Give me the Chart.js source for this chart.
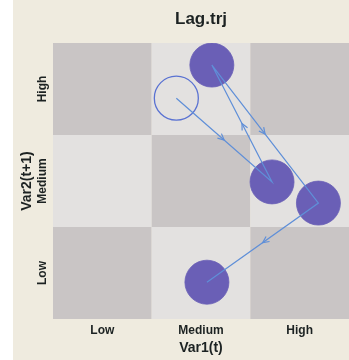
<!DOCTYPE html>
<html>
<head>
<meta charset="utf-8">
<script src="https://cdn.jsdelivr.net/npm/chart.js@4/dist/chart.umd.min.js"></script>
<style>
  html, body { margin: 0; padding: 0; background: #ffffff; }
  #wrap { position: absolute; left: 13px; top: 0; width: 336px; height: 360px; background: #efebdf; }
  canvas { display: block; }
</style>
</head>
<body>
<div id="wrap"><canvas id="c" width="336" height="360"></canvas></div>
<script>
// Category levels shared by both axes (value 1 = Low, 2 = Medium, 3 = High)
const categories = ['Low', 'Medium', 'High'];

// Lagged trajectory: Var1 at time t against Var2 at time t+1, in visiting order
const var1T   = [1.75, 2.72, 2.11, 3.19, 2.06];
const var2T1  = [2.90, 1.99, 3.26, 1.76, 0.90];

const FONT = "'Liberation Sans', Arial, sans-serif";
const TEXT = '#1c2222';
const CELL_DARK = '#c9c5c5';
const CELL_LIGHT = '#e3e1e0';
const DOT = '#6a5fb6';
const PATH = '#5f8fd8';
const OPEN = '#5a72d2';

const points = var1T.map((x, i) => ({ x, y: var2T1[i] }));
const categoryTicks = (scale) => { scale.ticks = categories.map((c, i) => ({ value: i + 1 })); };

// Checkerboard of category cells behind the marks
const checkerboard = {
  id: 'checkerboard',
  beforeDatasetsDraw(chart) {
    const { ctx, scales: { x, y } } = chart;
    ctx.save();
    categories.forEach((_, i) => {
      categories.forEach((_, j) => {
        const x0 = x.getPixelForValue(i + 0.5), x1 = x.getPixelForValue(i + 1.5);
        const y0 = y.getPixelForValue(j + 1.5), y1 = y.getPixelForValue(j + 0.5);
        ctx.fillStyle = (i + j) % 2 === 0 ? CELL_DARK : CELL_LIGHT;
        ctx.fillRect(x0, y0, x1 - x0, y1 - y0);
      });
    });
    ctx.restore();
  }
};

// Open arrowheads at the middle of each step of the path, plus rotated y labels
const arrowsAndLabels = {
  id: 'arrowsAndLabels',
  afterDatasetsDraw(chart) {
    const { ctx, scales: { x, y } } = chart;
    ctx.save();
    ctx.strokeStyle = PATH;
    ctx.lineWidth = 1.2;
    for (let k = 0; k < points.length - 1; k++) {
      const ax = x.getPixelForValue(points[k].x), ay = y.getPixelForValue(points[k].y);
      const bx = x.getPixelForValue(points[k + 1].x), by = y.getPixelForValue(points[k + 1].y);
      const mx = (ax + bx) / 2, my = (ay + by) / 2;
      const ang = Math.atan2(by - ay, bx - ax);
      const len = 7, spread = Math.PI / 7;
      ctx.beginPath();
      ctx.moveTo(mx - len * Math.cos(ang - spread), my - len * Math.sin(ang - spread));
      ctx.lineTo(mx, my);
      ctx.lineTo(mx - len * Math.cos(ang + spread), my - len * Math.sin(ang + spread));
      ctx.stroke();
    }
    ctx.restore();
  },
  afterDraw(chart) {
    const { ctx, scales: { y } } = chart;
    ctx.save();
    ctx.fillStyle = TEXT;
    ctx.font = 'bold 12px ' + FONT;
    ctx.textAlign = 'center';
    ctx.textBaseline = 'middle';
    categories.forEach((label, i) => {
      ctx.save();
      ctx.translate(30, y.getPixelForValue(i + 1));
      ctx.rotate(-Math.PI / 2);
      ctx.fillText(label, 0, 0);
      ctx.restore();
    });
    ctx.restore();
  }
};

new Chart(document.getElementById('c'), {
  type: 'scatter',
  data: {
    datasets: [
      {
        data: points,
        showLine: true,
        borderColor: PATH,
        borderWidth: 1.2,
        pointRadius: 0,
        order: 0
      },
      {
        data: points,
        showLine: false,
        pointRadius: 22,
        pointBackgroundColor: points.map((_, i) => i === 0 ? 'rgba(0,0,0,0)' : DOT),
        pointBorderColor: points.map((_, i) => i === 0 ? OPEN : DOT),
        pointBorderWidth: points.map((_, i) => i === 0 ? 1.3 : 0.8),
        order: 1
      }
    ]
  },
  options: {
    responsive: false,
    animation: false,
    layout: { padding: 0, autoPadding: false },
    plugins: {
      legend: { display: false },
      tooltip: { enabled: false },
      title: {
        display: true,
        text: 'Lag.trj',
        fullSize: false,
        color: TEXT,
        font: { family: FONT, size: 17, weight: 'bold' },
        padding: { top: 8.8, bottom: 13.8 }
      }
    },
    scales: {
      x: {
        type: 'linear',
        min: 0.5,
        max: 3.5,
        afterBuildTicks: categoryTicks,
        afterFit: (s) => { s.height = 41; },
        grid: { display: false, drawTicks: false },
        border: { display: false },
        ticks: {
          autoSkip: false,
          maxRotation: 0,
          padding: 4,
          color: TEXT,
          font: { family: FONT, size: 12, weight: 'bold' },
          callback: (v) => categories[v - 1]
        },
        title: {
          display: true,
          text: 'Var1(t)',
          color: TEXT,
          font: { family: FONT, size: 14, weight: 'bold' },
          padding: { top: 0, bottom: 3.3 }
        }
      },
      y: {
        type: 'linear',
        min: 0.5,
        max: 3.5,
        afterBuildTicks: categoryTicks,
        afterFit: (s) => { s.width = 40; },
        grid: { display: false, drawTicks: false },
        border: { display: false },
        ticks: { display: false },
        title: {
          display: true,
          text: 'Var2(t+1)',
          color: TEXT,
          font: { family: FONT, size: 14, weight: 'bold' },
          padding: { top: 5.6, bottom: 0 }
        }
      }
    }
  },
  plugins: [checkerboard, arrowsAndLabels]
});
</script>
</body>
</html>
